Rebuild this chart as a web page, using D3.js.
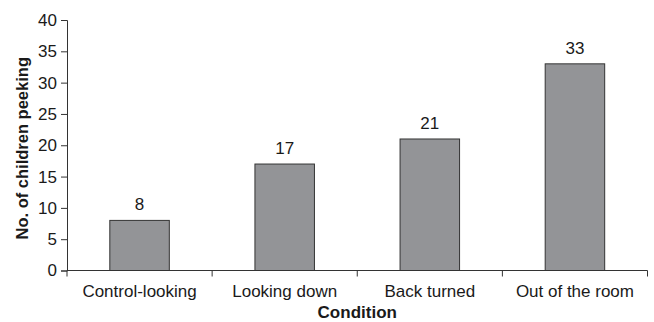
<!DOCTYPE html>
<html>
<head>
<meta charset="utf-8">
<script src="https://cdn.jsdelivr.net/npm/d3@7"></script>
<style>
  html, body { margin: 0; padding: 0; background: #fff; }
  svg { display: block; }
  text { font-family: "Liberation Sans", Arial, sans-serif; fill: #1a1a1a; }
</style>
</head>
<body>
<svg id="chart" width="654" height="322"></svg>
<script>
// Number of children peeking, per condition
const categories = ["Control-looking", "Looking down", "Back turned", "Out of the room"];
const values = [8, 17, 21, 33];
const yTicks = [0, 5, 10, 15, 20, 25, 30, 35, 40];

const svg = d3.select("#chart");
const plotLeft = 67, plotRight = 647.5, plotTop = 20, plotBottom = 270.5;

const x = d3.scaleBand().domain(categories).range([plotLeft, plotRight]).padding(0);
const y = d3.scaleLinear().domain([0, 40]).range([plotBottom, plotTop]);

const barFrac = 0.41;
const bw = x.bandwidth() * barFrac;

// bars
svg.append("g").selectAll("rect")
  .data(categories)
  .join("rect")
  .attr("x", (c) => x(c) + (x.bandwidth() - bw) / 2)
  .attr("y", (c, i) => y(values[i]))
  .attr("width", bw)
  .attr("height", (c, i) => y(0) - y(values[i]))
  .attr("fill", "#939497")
  .attr("stroke", "#333")
  .attr("stroke-width", 1);

// value labels
svg.append("g").selectAll("text")
  .data(categories)
  .join("text")
  .attr("x", (c) => x(c) + x.bandwidth() / 2)
  .attr("y", (c, i) => y(values[i]) - 10)
  .attr("text-anchor", "middle")
  .attr("font-size", 17)
  .text((c, i) => values[i]);

// y axis
const yAxis = svg.append("g")
  .attr("transform", `translate(${plotLeft},0)`)
  .call(d3.axisLeft(y).tickValues(yTicks).tickSize(6).tickPadding(4));
yAxis.attr("font-size", null).attr("font-family", null);
yAxis.select(".domain").attr("stroke", "#333");
yAxis.selectAll(".tick line").attr("stroke", "#333");
yAxis.selectAll(".tick text").attr("font-size", 17).attr("fill", "#1a1a1a");

// x axis: line plus ticks at category boundaries
const xAxis = svg.append("g").attr("transform", `translate(0,${plotBottom})`);
xAxis.append("line")
  .attr("x1", plotLeft).attr("x2", plotRight)
  .attr("stroke", "#333");
const bounds = categories.map((c) => x(c)).concat([x.range()[1]]);
xAxis.selectAll("line.tick")
  .data(bounds)
  .join("line")
  .attr("class", "tick")
  .attr("x1", (d) => d).attr("x2", (d) => d)
  .attr("y1", 0).attr("y2", 6)
  .attr("stroke", "#333");
xAxis.selectAll("text")
  .data(categories)
  .join("text")
  .attr("x", (c) => x(c) + x.bandwidth() / 2)
  .attr("y", 26.5)
  .attr("text-anchor", "middle")
  .attr("font-size", 17)
  .text((c) => c);

// axis titles
svg.append("text")
  .attr("x", (plotLeft + plotRight) / 2)
  .attr("y", 317.5)
  .attr("text-anchor", "middle")
  .attr("font-size", 17)
  .attr("font-weight", "bold")
  .text("Condition");

svg.append("text")
  .attr("transform", `translate(28,${(plotTop + plotBottom) / 2 + 3}) rotate(-90)`)
  .attr("text-anchor", "middle")
  .attr("font-size", 16.5)
  .attr("font-weight", "bold")
  .text("No. of children peeking");
</script>
</body>
</html>
